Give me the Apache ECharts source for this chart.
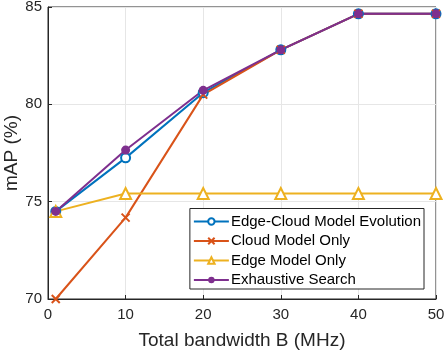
<!DOCTYPE html>
<html><head><meta charset="utf-8">
<script src="https://cdn.jsdelivr.net/npm/echarts@6/dist/echarts.min.js"></script>
<style>html,body{margin:0;padding:0;background:#fff}#c{width:446px;height:352px}</style>
</head><body><div id="c"></div>
<script>
const xValues = [1, 10, 20, 30, 40, 50];
const edgeCloud = [74.5, 77.25, 80.6, 82.8, 84.65, 84.65];
const cloudOnly = [70.0, 74.18, 80.5, 82.8, 84.65, 84.65];
const edgeOnly = [74.5, 75.42, 75.42, 75.42, 75.42, 75.42];
const exhaustive = [74.5, 77.65, 80.72, 82.8, 84.65, 84.65];
const seriesNames = ['Edge-Cloud Model Evolution', 'Cloud Model Only', 'Edge Model Only', 'Exhaustive Search'];
const colors = ['#0072BD', '#D95319', '#EDB120', '#7E2F8E'];

function pairs(ys){ return xValues.map((x,i)=>[x, ys[i]]); }
const font = 'Arial, "Liberation Sans", Helvetica, sans-serif';
const chart = echarts.init(document.getElementById('c'));
chart.setOption({
  animation: false,
  backgroundColor: '#fff',
  grid: {left: 48, right: 10, top: 7, bottom: 53, show: true, borderColor: '#262626', borderWidth: 1,
         containLabel: false, outerBoundsMode: 'none'},
  legend: {
    right: 22, bottom: 63, orient: 'vertical',
    backgroundColor: '#fff', borderColor: '#262626', borderWidth: 1,
    padding: [5, 3, 1, 3], itemGap: 3.5, itemWidth: 35, itemHeight: 8,
    textStyle: {fontFamily: font, fontSize: 15, lineHeight: 16, color: '#000', padding: [0,0,0,-3]},
    data: seriesNames
  },
  xAxis: {
    type: 'value', min: 0, max: 50, interval: 10,
    name: 'Total bandwidth B (MHz)', nameLocation: 'middle', nameGap: 32, nameMoveOverlap: false,
    nameTextStyle: {fontFamily: font, fontSize: 19, color: '#262626'},
    axisLine: {show: true, lineStyle: {color: '#262626'}},
    axisTick: {show: true, inside: true, length: 4, lineStyle: {color: '#262626'}},
    axisLabel: {fontFamily: font, fontSize: 15, color: '#262626', margin: 8},
    splitLine: {show: true, lineStyle: {color: '#e6e6e6', width: 1}}
  },
  yAxis: {
    type: 'value', min: 70, max: 85, interval: 5,
    name: 'mAP (%)', nameLocation: 'middle', nameGap: 27, nameMoveOverlap: false,
    nameTextStyle: {fontFamily: font, fontSize: 19, color: '#262626'},
    axisLine: {show: true, lineStyle: {color: '#262626'}},
    axisTick: {show: true, inside: true, length: 4, lineStyle: {color: '#262626'}},
    axisLabel: {fontFamily: font, fontSize: 15, color: '#262626', margin: 6},
    splitLine: {show: true, lineStyle: {color: '#e6e6e6', width: 1}}
  },
  series: [
    {name: seriesNames[0], type: 'line', data: pairs(edgeCloud), color: colors[0],
     lineStyle: {width: 2}, symbol: 'emptyCircle', symbolSize: 9,
     itemStyle: {color: colors[0], borderColor: colors[0], borderWidth: 2}},
    {name: seriesNames[1], type: 'line', data: pairs(cloudOnly), color: colors[1],
     lineStyle: {width: 2}, symbol: 'path://M0,0L10,10M10,0L0,10', symbolSize: 8,
     itemStyle: {color: colors[1], borderColor: colors[1], borderWidth: 2}},
    {name: seriesNames[2], type: 'line', data: pairs(edgeOnly), color: colors[2],
     lineStyle: {width: 2}, symbol: 'emptyTriangle', symbolSize: 11,
     itemStyle: {color: colors[2], borderColor: colors[2], borderWidth: 2}},
    {name: seriesNames[3], type: 'line', data: pairs(exhaustive), color: colors[3],
     lineStyle: {width: 2}, symbol: 'circle', symbolSize: 9,
     itemStyle: {color: colors[3], borderColor: colors[3], borderWidth: 0}}
  ]
});
</script></body></html>
